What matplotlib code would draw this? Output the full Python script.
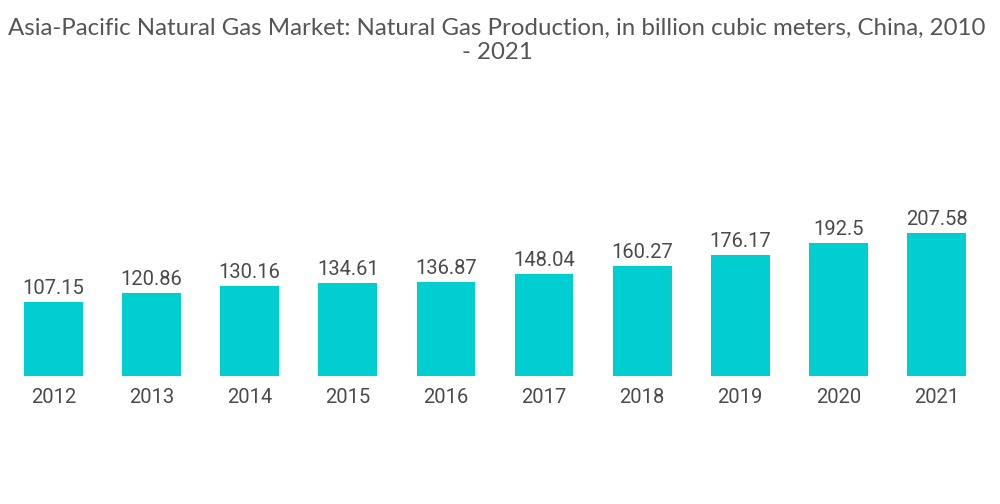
import matplotlib
matplotlib.use("Agg")
import matplotlib.pyplot as plt

years = ["2012", "2013", "2014", "2015", "2016", "2017", "2018", "2019", "2020", "2021"]
values = [107.15, 120.86, 130.16, 134.61, 136.87, 148.04, 160.27, 176.17, 192.5, 207.58]
labels = ["107.15", "120.86", "130.16", "134.61", "136.87", "148.04", "160.27", "176.17", "192.5", "207.58"]

fig = plt.figure(figsize=(10, 5.04), dpi=100)
ax = fig.add_axes([0.0045, 0.254, 0.981, 0.448])
x = list(range(len(years)))
bars = ax.bar(x, values, width=0.6, color="#00CED1")
ax.set_xlim(-0.5, len(years) - 0.5)
ax.set_ylim(0, 328)
for xi, v, lab in zip(x, values, labels):
    ax.text(xi, v + 6, lab, ha="center", va="bottom", fontsize=14.5,
            color="#4a4a4a", family="Roboto")
ax.set_xticks(x)
ax.set_xticklabels(years, fontsize=14.5, color="#4a4a4a", family="Roboto")
ax.tick_params(axis="x", length=0, pad=9)
ax.set_yticks([])
for s in ax.spines.values():
    s.set_visible(False)

fig.text(0.497, 0.965, "Asia-Pacific Natural Gas Market: Natural Gas Production, in billion cubic meters, China, 2010\n- 2021",
         ha="center", va="top", fontsize=17.3, color="#555555", family="Lato", linespacing=1.2)

fig.savefig("out.png", dpi=100)
